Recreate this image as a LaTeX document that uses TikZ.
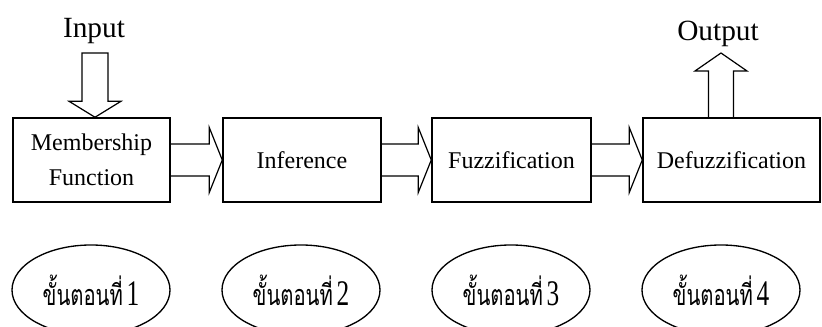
\documentclass[tikz,border=0pt]{standalone}
\usepackage{fontspec}
\usepackage{graphicx}
\setmainfont{Liberation Serif}
\newfontfamily\thaifont[Script=Thai]{Loma}
\usetikzlibrary{calc,shapes.geometric}
\tikzset{
  stage/.style   = {draw, line width=1.1pt, rectangle, minimum height=63pt,
                    align=center, inner sep=0pt},
  phase/.style   = {draw, line width=1pt, ellipse, minimum width=118.5pt,
                    minimum height=67.5pt, inner sep=0pt},
  iolabel/.style = {font=\fontsize{22}{24}\selectfont, inner sep=0pt},
  hollow/.style  = {line width=0.9pt, line join=miter},
}
% hollow block arrows, given the two ends
\newcommand{\fatright}[2]{%
  \draw[hollow] ($(#1)+(0,16)$) -- ($(#2)+(-13,16)$) -- ($(#2)+(-13,32.5)$)
    -- (#2) -- ($(#2)+(-13,-32.5)$) -- ($(#2)+(-13,-16)$) -- ($(#1)+(0,-16)$);}
\newcommand{\fatdown}[2]{%
  \draw[hollow] ($(#1)+(-13,0)$) -- ($(#2)+(-13,16)$) -- ($(#2)+(-26,16)$)
    -- (#2) -- ($(#2)+(26,16)$) -- ($(#2)+(13,16)$) -- ($(#1)+(13,0)$) -- cycle;}
\newcommand{\fatup}[2]{%
  \draw[hollow] ($(#1)+(-12.5,0)$) -- ($(#2)+(-12.5,-18)$) -- ($(#2)+(-26,-18)$)
    -- (#2) -- ($(#2)+(26,-18)$) -- ($(#2)+(12.5,-18)$) -- ($(#1)+(12.5,0)$);}
\begin{document}
\begin{tikzpicture}[x=0.75pt, y=0.75pt, font=\fontsize{18}{26}\selectfont]
\useasboundingbox (0,0) rectangle (822,327);
% ---- stages ----
\node[stage, minimum width=117.75pt] (member) at (91.5,167) {Membership\\Function};
\node[stage, minimum width=118.5pt]  (infer)  at (302,167)  {Inference};
\node[stage, minimum width=119.25pt] (fuzz)   at (511.5,167) {Fuzzification};
\node[stage, minimum width=132.75pt] (defuzz) at (731.5,167) {Defuzzification};
% ---- flow between stages ----
\fatright{member.east}{infer.west}
\fatright{infer.east}{fuzz.west}
\fatright{fuzz.east}{defuzz.west}
% ---- input ----
\node[iolabel] (inlabel) at (94,296) {Input};
\coordinate (intop) at (95,274);
\coordinate (inend) at (intop |- member.north);
\fatdown{intop}{inend}
% ---- output ----
\node[iolabel] (outlabel) at (718,293) {Output};
\coordinate (outtip) at (721,274);
\coordinate (outbase) at (outtip |- defuzz.north);
\fatup{outbase}{outtip}
% ---- steps ----
\foreach \n/\x in {1/91,2/301,3/511,4/721}
  \node[phase] (p\n) at (\x,37)
       {\scalebox{0.95}[1.35]{{\thaifont\fontsize{16}{18}\selectfont ขั้นตอนที่}\,%
        \fontsize{20}{22}\selectfont\n}};
\end{tikzpicture}
\end{document}
